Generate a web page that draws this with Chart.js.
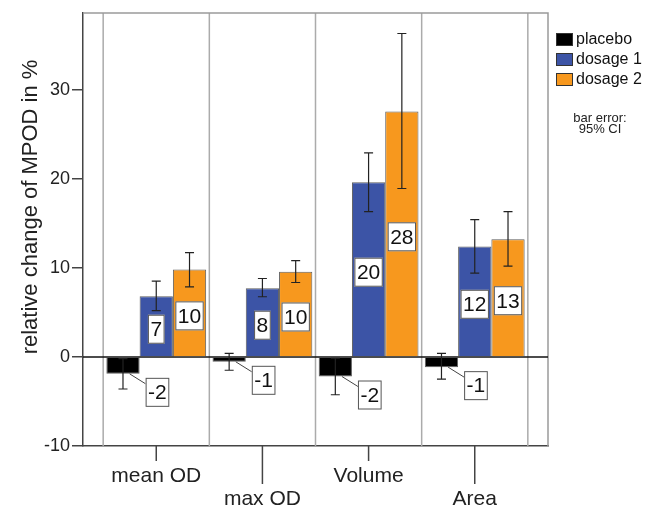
<!DOCTYPE html>
<html>
<head>
<meta charset="utf-8">
<script src="https://cdn.jsdelivr.net/npm/chart.js@4.4.0/dist/chart.umd.min.js"></script>
<style>
  html, body { margin: 0; padding: 0; background: #fff; }
  #wrap { width: 646px; height: 509px; }
</style>
</head>
<body>
<div id="wrap"><canvas id="chart"></canvas></div>
<script>
// categories and series (relative change of MPOD, %)
const categories = ['mean OD', 'max OD', 'Volume', 'Area'];
const placebo = [-1.9, -0.55, -2.2, -1.15];
const dosage1 = [6.8, 7.7, 19.6, 12.4];
const dosage2 = [9.8, 9.55, 27.55, 13.2];

// 95% CI bounds
const placeboLow = [-3.6, -1.5, -4.25, -2.5];
const placeboHigh = [-0.2, 0.4, -0.15, 0.4];
const dosage1Low = [5.2, 6.75, 16.3, 9.4];
const dosage1High = [8.5, 8.8, 22.9, 15.4];
const dosage2Low = [7.85, 8.35, 18.9, 10.2];
const dosage2High = [11.7, 10.8, 36.3, 16.3];

const yTicks = [-10, 0, 10, 20, 30];

const FONT = "'Liberation Sans', Arial, sans-serif";
const ciLow = [placeboLow, dosage1Low, dosage2Low];
const ciHigh = [placeboHigh, dosage1High, dosage2High];

const toPoints = arr => arr.map((v, i) => ({ x: i, y: v }));

// separators, zero line, frame
const framePlugin = {
    id: 'frame',
    beforeDatasetsDraw(chart) {
        const { ctx, chartArea: a, scales: { x, y } } = chart;
        ctx.save();
        ctx.strokeStyle = '#ababab';
        ctx.lineWidth = 1.5;
        for (let i = 0; i <= categories.length; i++) {
            const px = x.getPixelForValue(i - 0.5);
            ctx.beginPath();
            ctx.moveTo(px, a.top);
            ctx.lineTo(px, a.bottom);
            ctx.stroke();
        }
        // top and right border
        ctx.strokeStyle = '#9a9a9a';
        ctx.beginPath();
        ctx.moveTo(a.left, a.top);
        ctx.lineTo(a.right, a.top);
        ctx.lineTo(a.right, a.bottom);
        ctx.stroke();
        // zero line
        const y0 = y.getPixelForValue(0);
        ctx.strokeStyle = '#111';
        ctx.beginPath();
        ctx.moveTo(a.left, y0);
        ctx.lineTo(a.right, y0);
        ctx.stroke();
        ctx.restore();
    },
    afterDatasetsDraw(chart) {
        const { ctx, scales: { y } } = chart;
        ctx.save();
        // error bars
        ctx.strokeStyle = '#222';
        ctx.lineWidth = 1.2;
        chart.data.datasets.forEach((ds, d) => {
            chart.getDatasetMeta(d).data.forEach((bar, i) => {
                const yl = y.getPixelForValue(ciLow[d][i]);
                const yh = y.getPixelForValue(ciHigh[d][i]);
                ctx.beginPath();
                ctx.moveTo(bar.x, yl); ctx.lineTo(bar.x, yh);
                ctx.moveTo(bar.x - 4.5, yl); ctx.lineTo(bar.x + 4.5, yl);
                ctx.moveTo(bar.x - 4.5, yh); ctx.lineTo(bar.x + 4.5, yh);
                ctx.stroke();
            });
        });
        // value labels
        ctx.font = '21px ' + FONT;
        ctx.textAlign = 'center';
        ctx.textBaseline = 'middle';
        chart.data.datasets.forEach((ds, d) => {
            chart.getDatasetMeta(d).data.forEach((bar, i) => {
                const v = ds.data[i].y;
                const txt = String(Math.round(v));
                const w = ctx.measureText(txt).width + 5;
                const h = 29;
                let cx, cy;
                if (v >= 0) {
                    cx = bar.x;
                    cy = (bar.y + bar.base) / 2 + 3;
                } else {
                    const right = bar.x + bar.width / 2;
                    const left = right + 6;
                    const top = bar.y + 4;
                    cx = left + w / 2;
                    cy = top + h / 2;
                    ctx.strokeStyle = '#444';
                    ctx.lineWidth = 1;
                    ctx.beginPath();
                    ctx.moveTo(right - 10, bar.y);
                    ctx.lineTo(left, top + 6);
                    ctx.stroke();
                }
                ctx.fillStyle = '#fff';
                ctx.fillRect(cx - w / 2, cy - h / 2, w, h);
                ctx.strokeStyle = '#555';
                ctx.lineWidth = 1;
                ctx.strokeRect(cx - w / 2 + 0.5, cy - h / 2 + 0.5, w - 1, h - 1);
                ctx.fillStyle = '#111';
                ctx.fillText(txt, cx, cy + 1);
            });
        });
        ctx.restore();
    },
    afterDraw(chart) {
        const { ctx, chartArea: a, scales: { x } } = chart;
        ctx.save();
        // staggered x tick marks
        ctx.strokeStyle = '#444';
        ctx.lineWidth = 1.5;
        categories.forEach((c, i) => {
            const px = x.getPixelForValue(i);
            ctx.beginPath();
            ctx.moveTo(px, a.bottom);
            ctx.lineTo(px, a.bottom + (i % 2 ? 38 : 15));
            ctx.stroke();
        });
        // y axis title
        ctx.fillStyle = '#222';
        ctx.font = '22px ' + FONT;
        ctx.textAlign = 'center';
        ctx.textBaseline = 'middle';
        ctx.translate(31, 207);
        ctx.rotate(-Math.PI / 2);
        ctx.fillText('relative change of MPOD in %', 0, 0);
        ctx.restore();

        // legend
        ctx.save();
        ctx.font = '16px ' + FONT;
        ctx.textBaseline = 'middle';
        chart.data.datasets.forEach((ds, k) => {
            const top = 33 + k * 20;
            ctx.fillStyle = ds.backgroundColor;
            ctx.fillRect(556, top, 17, 13);
            ctx.strokeStyle = '#333';
            ctx.lineWidth = 1;
            ctx.strokeRect(556.5, top + 0.5, 16, 12);
            ctx.fillStyle = '#111';
            ctx.fillText(ds.label, 576, top + 7);
        });
        ctx.font = '13px ' + FONT;
        ctx.textAlign = 'center';
        ctx.fillStyle = '#222';
        ctx.fillText('bar error:', 600, 118);
        ctx.fillText('95% CI', 600, 129);
        ctx.restore();
    }
};

const ctx = document.getElementById('chart').getContext('2d');
new Chart(ctx, {
    type: 'bar',
    data: {
        datasets: [
            { label: 'placebo', data: toPoints(placebo), backgroundColor: '#000000' },
            { label: 'dosage 1', data: toPoints(dosage1), backgroundColor: '#3c54a6' },
            { label: 'dosage 2', data: toPoints(dosage2), backgroundColor: '#f7981e' }
        ]
    },
    options: {
        responsive: true,
        maintainAspectRatio: false,
        animation: false,
        layout: { padding: { top: 13, right: 98, left: 0, bottom: 0 } },
        datasets: {
            bar: {
                categoryPercentage: 0.94,
                barPercentage: 1.0,
                borderColor: 'rgba(40, 40, 40, 0.75)',
                borderWidth: 1
            }
        },
        plugins: {
            legend: { display: false },
            tooltip: { enabled: false }
        },
        scales: {
            x: {
                type: 'linear',
                min: -0.69,
                max: 3.69,
                offset: false,
                grid: { display: false, drawTicks: false, tickLength: 0 },
                border: { display: true, color: '#444', width: 1.5 },
                afterBuildTicks: scale => { scale.ticks = categories.map((c, i) => ({ value: i })); },
                afterFit: scale => { scale.height = 63; },
                ticks: {
                    autoSkip: false,
                    maxRotation: 0,
                    padding: 19,
                    color: '#222',
                    font: { family: FONT, size: 21, lineHeight: '23px' },
                    callback: (value, index) => index % 2 ? ['', categories[value]] : categories[value]
                }
            },
            y: {
                min: -10,
                max: 38.6,
                grid: { drawOnChartArea: false, tickLength: 11, color: '#444', lineWidth: 1.5 },
                border: { display: true, color: '#444', width: 1.5 },
                afterBuildTicks: scale => { scale.ticks = yTicks.map(v => ({ value: v })); },
                afterFit: scale => { scale.width = 83; },
                ticks: {
                    padding: 2,
                    color: '#222',
                    font: { family: FONT, size: 18 }
                }
            }
        }
    },
    plugins: [framePlugin]
});
</script>
</body>
</html>
